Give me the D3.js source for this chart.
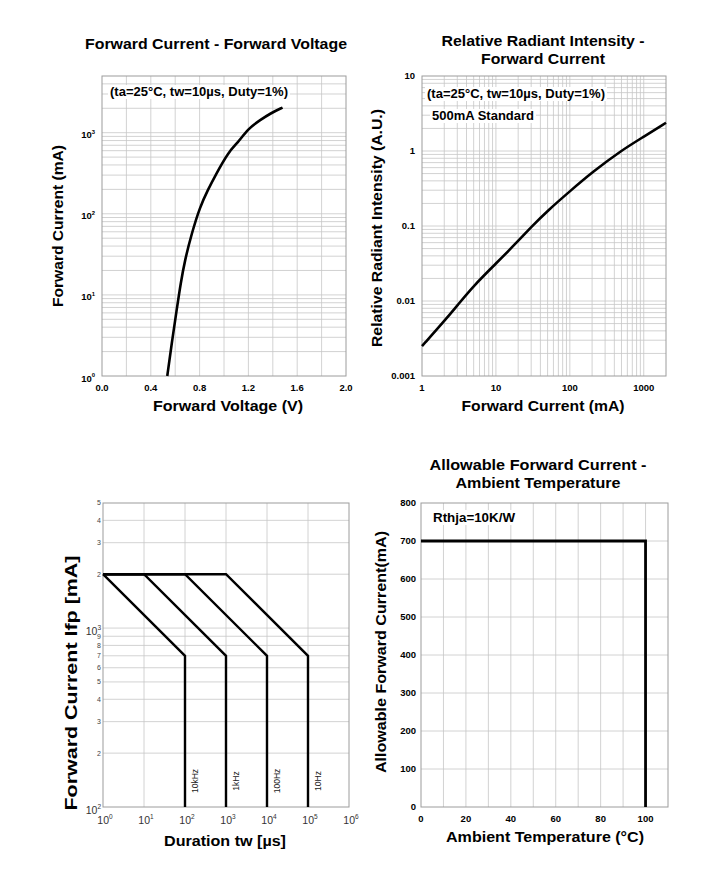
<!DOCTYPE html>
<html>
<head>
<meta charset="utf-8">
<script src="https://cdn.jsdelivr.net/npm/d3@7"></script>
<style>
  body { margin: 0; background: #fff; }
  text { font-family: "Liberation Sans", Arial, sans-serif; }
</style>
</head>
<body>
<svg id="chart" width="722" height="870"></svg>
<script>
// forward current vs forward voltage
const fvVoltage = [0.535, 0.571, 0.612, 0.645, 0.68, 0.735, 0.803, 0.87, 0.93, 1.04, 1.11, 1.2, 1.3, 1.38, 1.48];
const fvCurrent = [1, 2.5, 6.5, 14, 27, 57, 122, 200, 300, 590, 740, 1130, 1440, 1730, 2040];
const fvXTicks = [0, 0.4, 0.8, 1.2, 1.6, 2.0];
const fvYTicks = [1, 10, 100, 1000];

// relative radiant intensity vs forward current
const riCurrent = [1, 2, 3, 5, 10, 20, 30, 50, 100, 200, 500, 1000, 2000];
const riIntensity = [0.0025, 0.0054, 0.0087, 0.016, 0.0315, 0.063, 0.097, 0.16, 0.29, 0.52, 1.02, 1.55, 2.38];
const riXTicks = [1, 10, 100, 1000];
const riYTicks = [0.001, 0.01, 0.1, 1, 10];
const riYLabels = ["0.001", "0.01", "0.1", "1", "10"];

// pulse capability, one line per repetition frequency
const pulseFreq = ["10kHz", "1kHz", "100Hz", "10Hz"];
const pulseFlatEnd = [1, 10, 100, 1000];
const pulseKnee = [100, 1000, 10000, 100000];
const pulsePeak = 2000;
const pulseDerated = 700;
const pulseFloor = 100;
const pulseXTicks = [1, 10, 100, 1000, 10000, 100000, 1000000];
const pulseYMinor = [200, 300, 400, 500, 600, 700, 800, 900, 2000, 3000, 4000, 5000];
const pulseYDecades = [100, 1000];

// derating vs ambient temperature
const derateTemp = [0, 100, 100];
const derateCurrent = [700, 700, 0];
const derateXTicks = [0, 20, 40, 60, 80, 100];
const derateYTicks = [0, 100, 200, 300, 400, 500, 600, 700, 800];

const GRID = "#c6c6c6";
const FRAME = "#9c9c9c";
const svg = d3.select("#chart");

// minor positions k*10^e strictly inside a log domain
function logGrid(lo, hi) {
  const out = [];
  for (let e = Math.floor(Math.log10(lo)); e <= Math.ceil(Math.log10(hi)); e++) {
    for (let k = 1; k < 10; k++) {
      const v = +(k * Math.pow(10, e)).toPrecision(3);
      if (v > lo * 1.0001 && v < hi * 0.9999) out.push(v);
    }
  }
  return out;
}

function grid(g, x, y, xs, ys) {
  const [x0, x1] = x.range();
  const [y0, y1] = y.range();
  g.selectAll(null).data(xs).enter().append("line")
    .attr("x1", d => x(d)).attr("x2", d => x(d))
    .attr("y1", y0).attr("y2", y1)
    .attr("stroke", GRID).attr("stroke-width", 0.8);
  g.selectAll(null).data(ys).enter().append("line")
    .attr("y1", d => y(d)).attr("y2", d => y(d))
    .attr("x1", x0).attr("x2", x1)
    .attr("stroke", GRID).attr("stroke-width", 0.8);
}

function frame(g, x, y) {
  const [x0, x1] = x.range();
  const [y0, y1] = y.range();
  g.append("rect")
    .attr("x", x0).attr("y", y1)
    .attr("width", x1 - x0).attr("height", y0 - y1)
    .attr("fill", "none").attr("stroke", FRAME).attr("stroke-width", 1);
}

// the original lettering is a bit wider than Liberation Sans, so stretch to the measured width
function fit(t, width) {
  return t.attr("textLength", width).attr("lengthAdjust", "spacingAndGlyphs");
}

// 10 with superscript exponent
function pow10(sel, v, size, weight) {
  const e = Math.round(Math.log10(v));
  sel.text(null);
  sel.append("tspan").text("10").attr("font-size", size).attr("font-weight", weight);
  sel.append("tspan").text(e).attr("font-size", size * 0.62).attr("font-weight", weight)
    .attr("dy", -size * 0.45);
}

// bold note with a white box behind it
function note(g, x, y, str, size, width) {
  const t = fit(g.append("text").attr("x", x).attr("y", y)
    .attr("font-size", size).attr("font-weight", "bold").text(str), width);
  const b = t.node().getBBox();
  g.insert("rect", () => t.node())
    .attr("x", b.x - 2).attr("y", b.y).attr("width", b.width + 4).attr("height", b.height)
    .attr("fill", "#fff");
}

function title(lines, widths, cx, y, size) {
  lines.forEach((s, i) => {
    fit(svg.append("text").attr("x", cx).attr("y", y + i * 17.5)
      .attr("text-anchor", "middle").attr("font-size", size).attr("font-weight", "bold")
      .text(s), widths[i]);
  });
}

function yTitle(str, cx, cy, size, width) {
  fit(svg.append("text")
    .attr("transform", `translate(${cx},${cy}) rotate(-90)`)
    .attr("text-anchor", "middle").attr("dy", "0.35em")
    .attr("font-size", size).attr("font-weight", "bold")
    .text(str), width);
}

function xTitle(str, cx, y, size, width) {
  fit(svg.append("text").attr("x", cx).attr("y", y)
    .attr("text-anchor", "middle").attr("font-size", size).attr("font-weight", "bold")
    .text(str), width);
}

// ---------- Forward Current - Forward Voltage ----------
{
  const x = d3.scaleLinear().domain([0, 2]).range([102, 346]);
  const y = d3.scaleLog().domain([1, 5000]).range([376, 76]);
  const g = svg.append("g");
  grid(g, x, y, d3.range(1, 10).map(i => i * 0.2), logGrid(1, 5000));
  frame(g, x, y);
  note(g, 110, 96, "(ta=25°C, tw=10µs, Duty=1%)", 12, 178);

  const line = d3.line().x((d, i) => x(fvVoltage[i])).y((d, i) => y(fvCurrent[i]))
    .curve(d3.curveBasis);
  g.append("path").datum(fvVoltage).attr("d", line)
    .attr("fill", "none").attr("stroke", "#000").attr("stroke-width", 2.6);

  g.selectAll(null).data(fvYTicks).enter().append("text")
    .attr("x", 95).attr("y", d => y(d)).attr("dy", "0.35em")
    .attr("text-anchor", "end")
    .each(function (d) { pow10(d3.select(this), d, 9.5, "bold"); });
  g.selectAll(null).data(fvXTicks).enter().append("text")
    .attr("x", d => x(d)).attr("y", 391).attr("text-anchor", "middle")
    .attr("font-size", 9.5).attr("font-weight", "bold")
    .text(d => d.toFixed(1));

  title(["Forward Current - Forward Voltage"], [262], 216, 49, 15);
  yTitle("Forward Current (mA)", 58, 226, 15.5, 162);
  xTitle("Forward Voltage (V)", 228, 411, 15, 150);
}

// ---------- Relative Radiant Intensity - Forward Current ----------
{
  const x = d3.scaleLog().domain([1, 2000]).range([422, 666]);
  const y = d3.scaleLog().domain([0.001, 10]).range([376, 76]);
  const g = svg.append("g");
  grid(g, x, y, logGrid(1, 2000), logGrid(0.001, 10));
  frame(g, x, y);
  note(g, 427, 98, "(ta=25°C, tw=10µs, Duty=1%)", 12, 178);
  note(g, 432, 120, "500mA Standard", 12, 102);

  const line = d3.line().x((d, i) => x(riCurrent[i])).y((d, i) => y(riIntensity[i]))
    .curve(d3.curveBasis);
  g.append("path").datum(riCurrent).attr("d", line)
    .attr("fill", "none").attr("stroke", "#000").attr("stroke-width", 2.6);

  g.selectAll(null).data(riYTicks).enter().append("text")
    .attr("x", 415).attr("y", d => y(d)).attr("dy", "0.35em")
    .attr("text-anchor", "end").attr("font-size", 9.5).attr("font-weight", "bold")
    .text((d, i) => riYLabels[i]);
  g.selectAll(null).data(riXTicks).enter().append("text")
    .attr("x", d => x(d)).attr("y", 391).attr("text-anchor", "middle")
    .attr("font-size", 9.5).attr("font-weight", "bold")
    .text(d => d);

  title(["Relative Radiant Intensity -", "Forward Current"], [203, 124], 543, 46, 15);
  yTitle("Relative Radiant Intensity (A.U.)", 377, 228, 15, 238);
  xTitle("Forward Current (mA)", 543, 411, 15, 163);
}

// ---------- Forward Current Ifp - Duration tw ----------
{
  const x = d3.scaleLog().domain([1, 1e6]).range([103, 349]);
  const y = d3.scaleLog().domain([100, 5000]).range([807, 503]);
  const g = svg.append("g");
  grid(g, x, y, pulseXTicks.slice(1, -1), logGrid(100, 5000));
  frame(g, x, y);

  const line = d3.line().x(d => x(d[0])).y(d => y(d[1]));
  pulseFreq.forEach((f, i) => {
    const pts = [[1, pulsePeak], [pulseFlatEnd[i], pulsePeak], [pulseKnee[i], pulseDerated], [pulseKnee[i], pulseFloor]];
    g.append("path").datum(pts).attr("d", line)
      .attr("fill", "none").attr("stroke", "#000").attr("stroke-width", 2.4)
      .attr("stroke-linejoin", "miter");
    g.append("text")
      .attr("transform", `translate(${x(pulseKnee[i]) + 10},781) rotate(-90)`)
      .attr("text-anchor", "middle").attr("dy", "0.35em")
      .attr("font-size", 8.5).attr("fill", "#222")
      .text(f);
  });

  g.selectAll(null).data(pulseYMinor).enter().append("text")
    .attr("x", 101).attr("y", d => y(d)).attr("dy", "0.35em")
    .attr("text-anchor", "end").attr("font-size", 7).attr("fill", "#444")
    .text(d => String(d)[0]);
  g.selectAll(null).data(pulseYDecades).enter().append("text")
    .attr("x", 101).attr("y", d => y(d) + 1).attr("dy", "0.35em")
    .attr("text-anchor", "end").attr("fill", "#333")
    .each(function (d) { pow10(d3.select(this), d, 10.5, "normal"); });
  g.selectAll(null).data(pulseXTicks).enter().append("text")
    .attr("x", d => x(d) + 2).attr("y", 824).attr("text-anchor", "middle").attr("fill", "#333")
    .each(function (d) { pow10(d3.select(this), d, 10.5, "normal"); });

  yTitle("Forward Current Ifp [mA]", 71, 683, 16.5, 255);
  xTitle("Duration tw [µs]", 225, 846, 15.5, 122);
}

// ---------- Allowable Forward Current - Ambient Temperature ----------
{
  const x = d3.scaleLinear().domain([0, 110]).range([421, 668]);
  const y = d3.scaleLinear().domain([0, 800]).range([807, 503]);
  const g = svg.append("g");
  grid(g, x, y, d3.range(10, 110, 10), d3.range(100, 800, 100));
  frame(g, x, y);
  note(g, 433, 522, "Rthja=10K/W", 13, 82);

  const line = d3.line().x((d, i) => x(derateTemp[i])).y((d, i) => y(derateCurrent[i]));
  g.append("path").datum(derateTemp).attr("d", line)
    .attr("fill", "none").attr("stroke", "#000").attr("stroke-width", 2.8);

  g.selectAll(null).data(derateYTicks).enter().append("text")
    .attr("x", 416).attr("y", d => y(d)).attr("dy", "0.35em")
    .attr("text-anchor", "end").attr("font-size", 9.5).attr("font-weight", "bold")
    .text(d => d);
  g.selectAll(null).data(derateXTicks).enter().append("text")
    .attr("x", d => x(d)).attr("y", 822).attr("text-anchor", "middle")
    .attr("font-size", 9.5).attr("font-weight", "bold")
    .text(d => d);

  title(["Allowable Forward Current -", "Ambient Temperature"], [217, 165], 538, 470, 15.5);
  yTitle("Allowable Forward Current(mA)", 381, 652, 15.5, 242);
  xTitle("Ambient Temperature (°C)", 545, 842, 15.5, 198);
}
</script>
</body>
</html>
